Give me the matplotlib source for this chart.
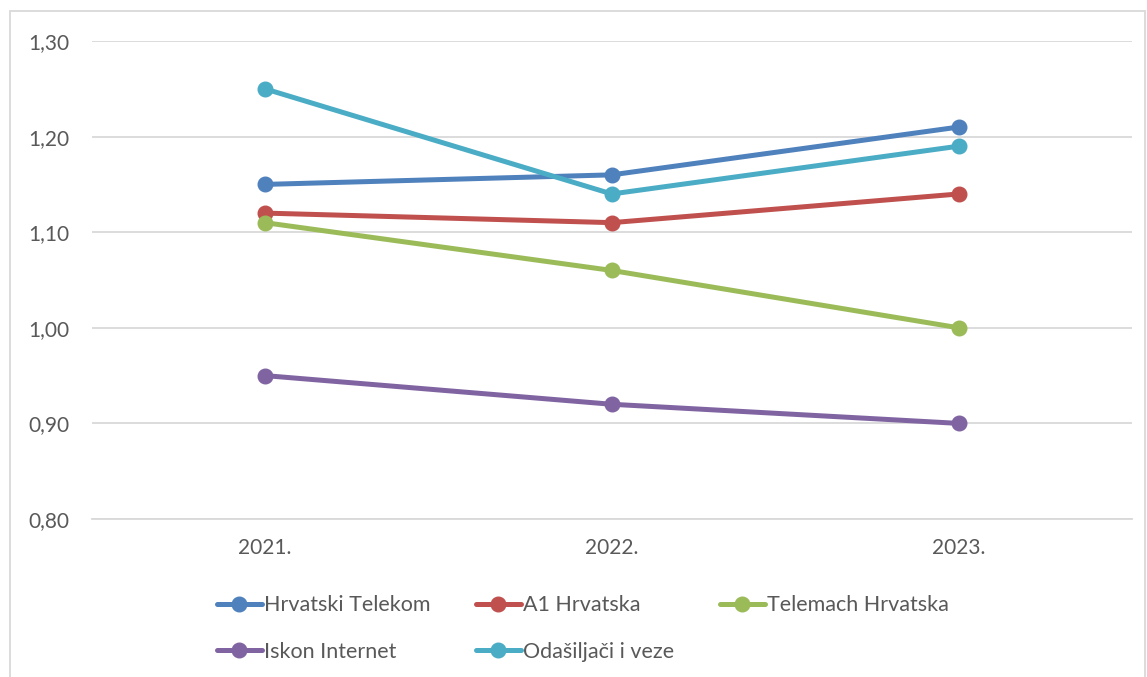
import matplotlib.pyplot as plt
from matplotlib.patches import Rectangle

plt.rcParams['font.family'] = ['Lato', 'DejaVu Sans']

# data
years = ['2021.', '2022.', '2023.']
hrvatski_telekom = [1.15, 1.16, 1.21]
a1_hrvatska = [1.12, 1.11, 1.14]
telemach = [1.11, 1.06, 1.00]
iskon = [0.95, 0.92, 0.90]
oiv = [1.25, 1.14, 1.19]

series_names = ['Hrvatski Telekom', 'A1 Hrvatska', 'Telemach Hrvatska',
                'Iskon Internet', 'Odašiljači i veze']
series_values = [hrvatski_telekom, a1_hrvatska, telemach, iskon, oiv]
colors = ['#4F81BD', '#C0504D', '#9BBB59', '#8064A2', '#4BACC6']

y_ticks = [0.80, 0.90, 1.00, 1.10, 1.20, 1.30]
y_labels = ['0,80', '0,90', '1,00', '1,10', '1,20', '1,30']

fig = plt.figure(figsize=(11.47, 6.77), dpi=100)
ax = fig.add_axes([0.0798, 0.2334, 0.9072, 0.706])

x = list(range(len(years)))
lines = []
for name, vals, c in zip(series_names, series_values, colors):
    ln, = ax.plot(x, vals, color=c, lw=3.6, marker='o', markersize=10.5,
                  label=name, zorder=3, solid_capstyle='round')
    lines.append(ln)

ax.set_xlim(-0.5, 2.5)
ax.set_ylim(0.80, 1.30)
ax.set_yticks(y_ticks)
ax.set_yticklabels(y_labels)
ax.set_xticks(x)
ax.set_xticklabels(years)
ax.grid(axis='y', color='#D9D9D9', lw=1.3)
ax.set_axisbelow(True)
for s in ['top', 'right', 'left']:
    ax.spines[s].set_visible(False)
ax.spines['bottom'].set_color('#D9D9D9')
ax.spines['bottom'].set_linewidth(1.3)
ax.tick_params(length=0, labelsize=15, colors='#595959')
ax.tick_params(axis='y', pad=16)
ax.tick_params(axis='x', pad=14)

# legend in row order (matplotlib fills by column)
order = [0, 3, 1, 4, 2]
leg = fig.legend([lines[i] for i in order], [series_names[i] for i in order],
                 ncol=3, loc='upper left', bbox_to_anchor=(0.189, 0.121),
                 frameon=False, fontsize=15.5, handlelength=2.1,
                 handletextpad=0.1, columnspacing=2.1, labelspacing=1.25,
                 borderaxespad=0, borderpad=0)
for t in leg.get_texts():
    t.set_color('#595959')

# outer chart border (bottom edge falls outside the image)
fig.patches.append(Rectangle((10 / 1147, -0.05), 1135 / 1147, 1 - 11 / 677 + 0.05,
                             transform=fig.transFigure, fill=False,
                             edgecolor='#D9D9D9', lw=1.3))

fig.savefig('out.png', dpi=100)
